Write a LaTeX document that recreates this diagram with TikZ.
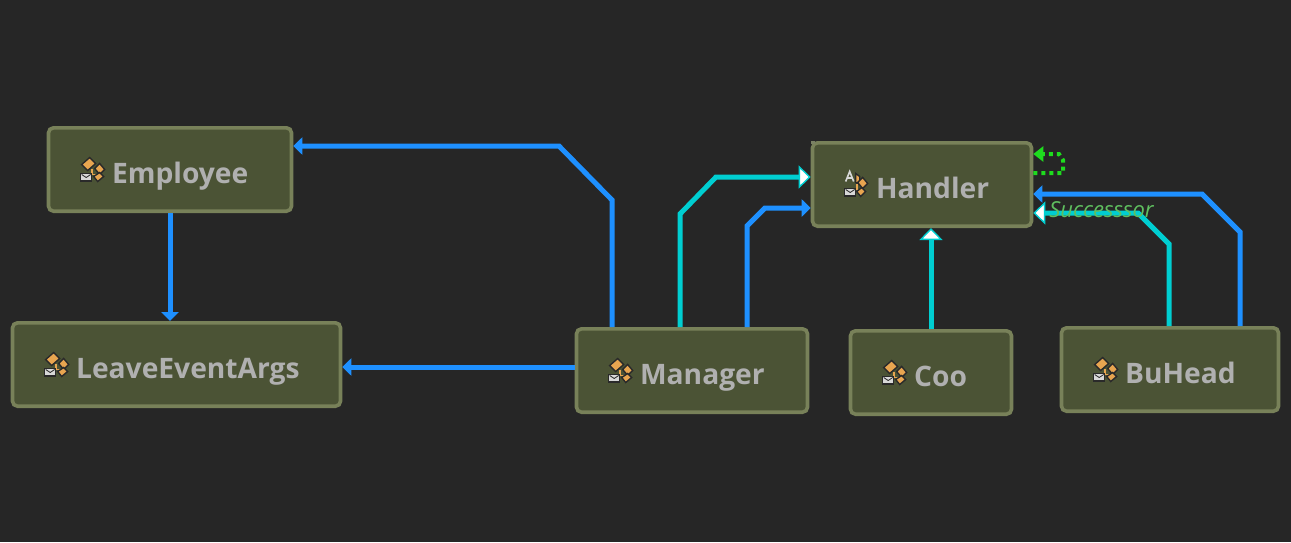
\documentclass[tikz,border=0pt]{standalone}
\usepackage{fontspec}
\setmainfont{Open Sans}
\usetikzlibrary{arrows.meta}
\definecolor{canvas}{HTML}{262626}
\definecolor{boxfill}{HTML}{4B5335}
\definecolor{boxline}{HTML}{788159}
\definecolor{boxtext}{HTML}{B0B0B0}
\definecolor{assocblue}{HTML}{1E90FF}
\definecolor{inheritcyan}{HTML}{00CED1}
\definecolor{selfgreen}{HTML}{1EDC1E}
\definecolor{rolegreen}{HTML}{5FBF5F}
\definecolor{iconorange}{HTML}{E8A550}
\definecolor{icondark}{HTML}{2A2A2A}
\definecolor{iconpaper}{HTML}{D8D8D8}
\tikzstyle{classbox} = [rectangle, draw=boxline, fill=boxfill, line width=1.8pt, rounded corners=2.5pt, inner sep=0pt, minimum height=41.7pt, align=left, text=boxtext, font=\fontsize{14.1}{16}\selectfont\bfseries, execute at begin node={\hspace*{31.8pt}\rule[-5pt]{0pt}{23.5pt}}]
\tikzstyle{assoc} = [line width=2.5pt, draw=assocblue, -{Triangle[length=4.5pt,width=8.5pt]}]
\tikzstyle{inherit} = [line width=2.5pt, draw=inheritcyan, -{Triangle[length=6pt,width=11.5pt,fill=white,line width=0.7pt]}]
\tikzstyle{selfassoc} = [line width=2pt, draw=selfgreen, dash pattern=on 2pt off 2pt, -{Triangle[length=5pt,width=7.5pt,fill=selfgreen]}]
\tikzstyle{rolelabel} = [text=rolegreen, font=\fontsize{11}{13}\selectfont\itshape, inner sep=0pt]
\tikzstyle{iconpart} = [draw=icondark, line width=0.7pt, fill=iconorange]
\tikzstyle{iconletter} = [draw=iconpaper, line width=0.8pt]
\tikzset{
  envelope/.pic={
    \draw [iconpart, fill=iconpaper] (#1) rectangle ++(11,7.5);
    \draw [icondark, line width=0.4pt] (#1) ++(1,1) -- ++(4.5,3) -- ++(4.5,-3);
  },
  classicon/.pic={
    \draw [iconpart] (-3,-13) -- (3,-7) -- (-5,0) -- (-11,-6) -- cycle;
    \draw [iconorange, line width=0.8pt] (-1,-2) -- (-1,4) -- (3,4);
    \draw [iconpart] (7,-7) -- (12,-1) -- (7,4) -- (2,-2) -- cycle;
    \draw [iconpart] (7,2) -- (11,6) -- (5,11) -- (1,6) -- cycle;
    \pic {envelope={-12,3}};
  },
  handlericon/.pic={
    \draw [iconletter] (-10,-3) -- (-6,-13) -- (-2,-3) (-8.5,-6.5) -- (-3.5,-6.5);
    \draw [iconpart] (0,-11) -- (4,-8) -- (4,0) -- (0,-2) -- cycle;
    \draw [iconorange, line width=0.8pt] (1,-1) -- (1,5) -- (4,5);
    \draw [iconpart] (7,-7) -- (12,-1) -- (7,4) -- (2,-2) -- cycle;
    \draw [iconpart] (6,3) -- (10,7) -- (5,12) -- (1,7) -- cycle;
    \pic {envelope={-11,4}};
  }
}

\begin{document}
\begin{tikzpicture}[x=0.5pt, y=-0.5pt]

\fill [canvas] (0,0) rectangle (1291,542);
\useasboundingbox (0,0) rectangle (1291,542);

\node (employee)  [classbox, text width=121.5pt]  at (170,169.5)   {Employee};
\node (leaveargs) [classbox, text width=164pt]    at (176.5,364.5) {LeaveEventArgs};
\node (manager)   [classbox, text width=115.5pt]  at (692,370.5)   {Manager};
\node (handler)   [classbox, text width=109.5pt]  at (922,184.5)   {Handler};
\node (coo)       [classbox, text width=80.5pt]   at (931,372.5)   {Coo};
\node (buhead)    [classbox, text width=108.5pt]  at (1170,369.5)  {BuHead};

\foreach \n in {employee, leaveargs, manager, coo, buhead}
  \pic at ([xshift=23pt, yshift=-0.5pt]\n.west) {classicon};
\pic at ([xshift=22.5pt]handler.west) {handlericon};
\fill [boxline!70!gray] (handler.north west) rectangle ++(4,3);

\coordinate (e1) at (612,200);
\coordinate (e2) at (559,146);
\coordinate (l1) at (560,367);
\coordinate (h1) at (680,214);
\coordinate (h2) at (716,177);
\coordinate (h3) at (747,226);
\coordinate (h4) at (765,208);
\coordinate (b1) at (1169,244);
\coordinate (b2) at (1138,213);
\coordinate (b3) at (1240,232);
\coordinate (b4) at (1202,194);
\coordinate (s1) at (1063,173);
\coordinate (s2) at (1063,160);
\coordinate (s3) at (1059,154);

\draw [assoc] (e1 |- manager.north) -- (e1) -- (e2) -- (e2 -| employee.east);
\draw [assoc] (employee.south) -- (employee.south |- leaveargs.north);
\draw [assoc] (l1 -| manager.west) -- (l1 -| leaveargs.east);
\draw [inherit] (h1 |- manager.north) -- (h1) -- (h2) -- (h2 -| handler.west);
\draw [assoc] (h3 |- manager.north) -- (h3) -- (h4) -- (h4 -| handler.west);
\draw [inherit] (coo.north) -- (coo.north |- handler.south);
\draw [inherit] (b1 |- buhead.north) -- (b1) -- (b2) -- (b2 -| handler.east);
\draw [assoc] (b3 |- buhead.north) -- (b3) -- (b4) -- (b4 -| handler.east);
\draw [selfassoc] (s1 -| handler.east) -- (s1) -- (s2) -- (s3) -- (s3 -| handler.east);

\node (successor) [rolelabel, anchor=base west] at (1049,217) {Successsor};

\end{tikzpicture}
\end{document}
